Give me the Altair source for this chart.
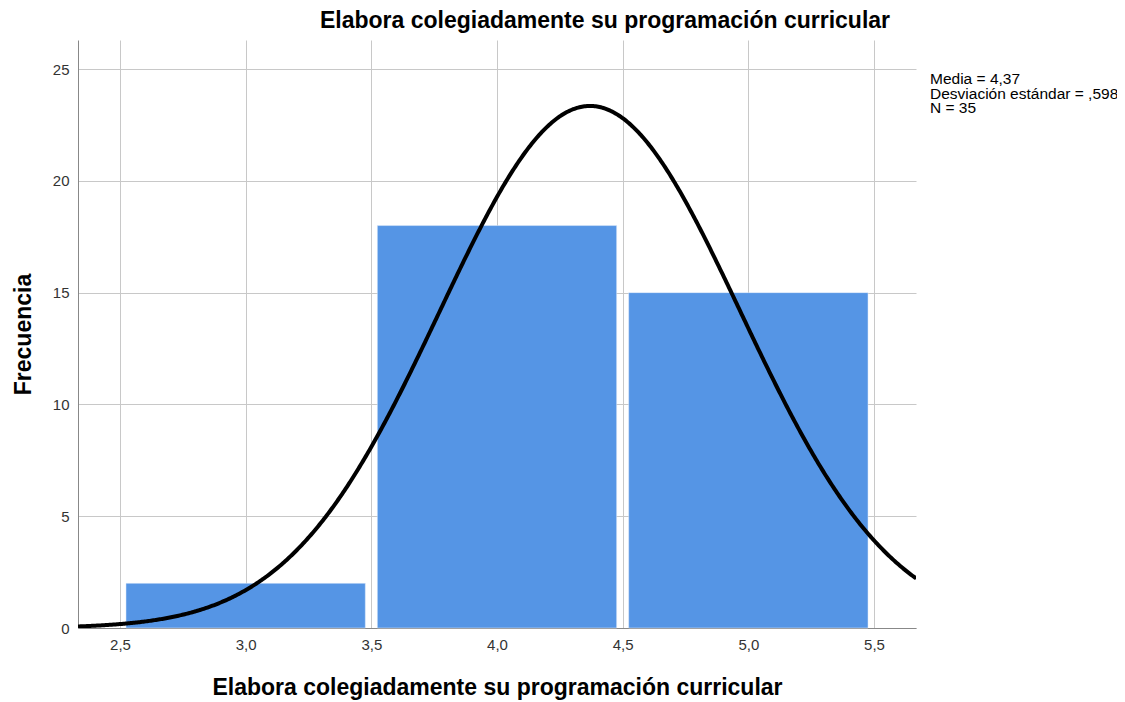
import altair as alt
import pandas as pd

# Histogram data
bin_start = [2.5, 3.5, 4.5]
bin_end = [3.5, 4.5, 5.5]
counts = [2, 18, 15]

# Summary statistics shown in the chart
media = 4.37
desv = 0.598
n_total = 35
bin_width = 1.0

x_ticks = [2.5, 3.0, 3.5, 4.0, 4.5, 5.0, 5.5]
y_ticks = [0, 5, 10, 15, 20, 25]
x_domain = [2.333, 5.667]
y_domain = [0, 26.3]

stats_lines = ["Media = 4,37", "Desviación estándar = ,598", "N = 35"]
title_text = "Elabora colegiadamente su programación curricular"

FONT = "Liberation Sans"
W, H = 838, 588

bars_df = pd.DataFrame({"start": bin_start, "end": bin_end, "count": counts})

x_scale = alt.Scale(domain=x_domain, nice=False, zero=False)
y_scale = alt.Scale(domain=y_domain, nice=False)

x_axis = alt.Axis(
    values=x_ticks,
    labelExpr="replace(format(datum.value, '.1f'), '.', ',')",
    title=title_text,
    titleFont=FONT, titleFontSize=23, titleFontWeight="bold", titleColor="#000",
    titlePadding=24,
    labelFont=FONT, labelFontSize=15, labelColor="#333", labelPadding=9,
    grid=True, gridColor="#c8c8c8", gridWidth=1,
    domainColor="#888", ticks=False,
)
y_axis = alt.Axis(
    values=y_ticks,
    title="Frecuencia",
    titleFont=FONT, titleFontSize=23, titleFontWeight="bold", titleColor="#000",
    titlePadding=17,
    labelFont=FONT, labelFontSize=15, labelColor="#333", labelPadding=9,
    grid=True, gridColor="#c8c8c8", gridWidth=1,
    domainColor="#888", ticks=False,
)

bars = alt.Chart(bars_df).mark_bar(
    color="#5595e5", xOffset=6, x2Offset=-6, stroke="#e6eefa", strokeWidth=0.5
).encode(
    x=alt.X("start:Q", scale=x_scale, axis=x_axis),
    x2="end:Q",
    y=alt.Y("count:Q", scale=y_scale, axis=y_axis),
    y2=alt.datum(0),
)

curve = alt.Chart(alt.sequence(x_domain[0], x_domain[1] + 0.005, 0.005, as_="x")).transform_calculate(
    y=f"{n_total * bin_width} / ({desv} * sqrt(2 * PI)) * exp(-0.5 * pow((datum.x - {media}) / {desv}, 2))"
).mark_line(color="#000", strokeWidth=4, clip=True).encode(
    x=alt.X("x:Q", scale=x_scale),
    y=alt.Y("y:Q", scale=y_scale),
)

stats = alt.Chart(pd.DataFrame({"t": [stats_lines]})).mark_text(
    align="left", baseline="top", font=FONT, fontSize=15.5, color="#000", lineHeight=14.7
).encode(
    x=alt.value(W + 14), y=alt.value(32), text="t:N"
)

chart = alt.layer(bars, curve, stats).properties(
    width=W, height=H,
    title=alt.TitleParams(title_text, font=FONT, fontSize=23, fontWeight="bold",
                          color="#000", anchor="middle", dx=108, offset=7),
    autosize=alt.AutoSizeParams(type="none"),
    padding={"left": 70, "top": 32, "right": 201, "bottom": 74},
).configure_view(stroke=None)

chart.save("out.html", embed_options={"renderer": "svg", "actions": False})
